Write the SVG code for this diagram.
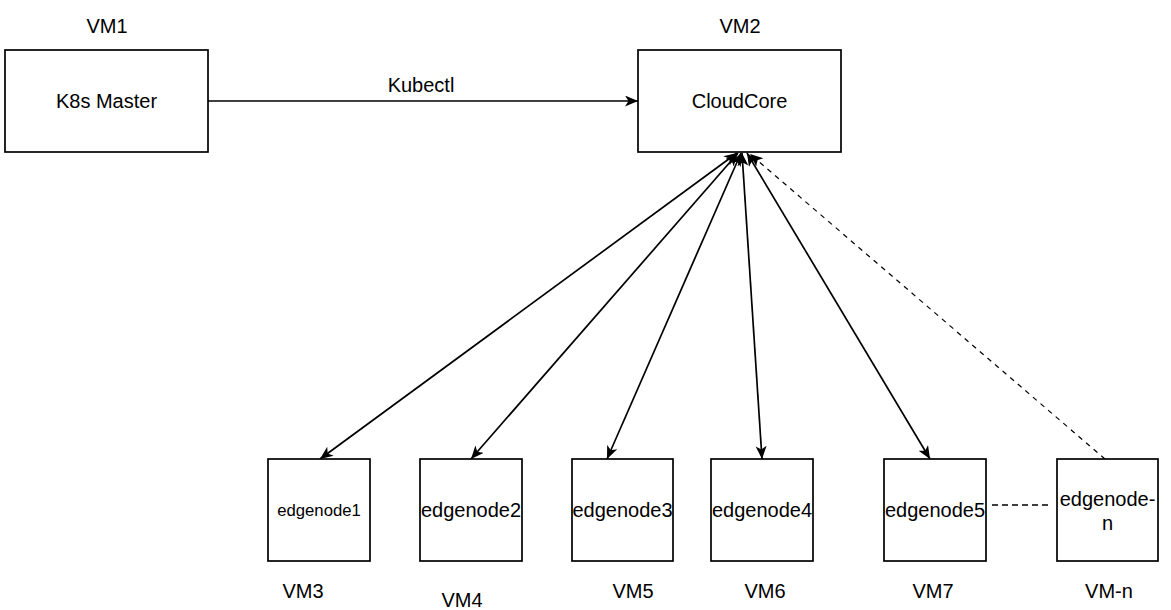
<svg xmlns="http://www.w3.org/2000/svg" width="1171" height="610" viewBox="0 0 1171 610">
<style>
  .box { fill: #ffffff; stroke: #000000; stroke-width: 1.7; }
  .t { font-family: "Liberation Sans", Arial, sans-serif; font-size: 20px; fill: #000000; text-anchor: middle; }
  .small { font-size: 16.7px; }
  .edge { fill: none; stroke: #000000; stroke-width: 1.7; }
  .dash { fill: none; stroke: #000000; stroke-width: 1.2; stroke-dasharray: 5 5; }
  .dash2 { fill: none; stroke: #000000; stroke-width: 1.6; stroke-dasharray: 6 4; }
</style>
<defs>
  <marker id="arrow" markerUnits="userSpaceOnUse" markerWidth="14" markerHeight="12" refX="13" refY="5.5" orient="auto-start-reverse" viewBox="0 0 14 12">
    <path d="M0,0 L13,5.5 L0,11 L3.5,5.5 Z" fill="#000000"/>
  </marker>
</defs>
<rect width="1171" height="610" fill="#ffffff"/>

<g id="connectors">
  <line class="edge" x1="208" y1="101" x2="638" y2="101" marker-end="url(#arrow)"/>
  <line class="edge" x1="737" y1="153" x2="320" y2="459" marker-start="url(#arrow)" marker-end="url(#arrow)"/>
  <line class="edge" x1="738" y1="153" x2="471" y2="459" marker-start="url(#arrow)" marker-end="url(#arrow)"/>
  <line class="edge" x1="741" y1="153" x2="607" y2="459" marker-start="url(#arrow)" marker-end="url(#arrow)"/>
  <line class="edge" x1="742" y1="153" x2="762" y2="459" marker-start="url(#arrow)" marker-end="url(#arrow)"/>
  <line class="edge" x1="747" y1="153" x2="930" y2="459" marker-start="url(#arrow)" marker-end="url(#arrow)"/>
  <line class="dash" x1="1105" y1="459" x2="750" y2="154" marker-end="url(#arrow)"/>
  <line class="dash2" x1="992" y1="505" x2="1052" y2="505"/>
  <text class="t" x="421" y="92">Kubectl</text>
</g>

<g id="k8s-master">
  <rect class="box" x="5" y="50" width="203" height="102"/>
  <text class="t" x="106.5" y="108">K8s Master</text>
  <text class="t" x="107" y="33">VM1</text>
</g>

<g id="cloudcore">
  <rect class="box" x="638" y="50" width="203" height="102"/>
  <text class="t" x="739.5" y="108">CloudCore</text>
  <text class="t" x="740" y="33">VM2</text>
</g>

<g id="edgenode1">
  <rect class="box" x="268" y="459" width="102" height="102"/>
  <text class="t small" x="319" y="516">edgenode1</text>
  <text class="t" x="303" y="598">VM3</text>
</g>

<g id="edgenode2">
  <rect class="box" x="420" y="459" width="102" height="102"/>
  <text class="t" x="471" y="517">edgenode2</text>
  <text class="t" x="462" y="607">VM4</text>
</g>

<g id="edgenode3">
  <rect class="box" x="572" y="459" width="101" height="102"/>
  <text class="t" x="622.5" y="517">edgenode3</text>
  <text class="t" x="633" y="598">VM5</text>
</g>

<g id="edgenode4">
  <rect class="box" x="711" y="459" width="102" height="102"/>
  <text class="t" x="762" y="517">edgenode4</text>
  <text class="t" x="765" y="598">VM6</text>
</g>

<g id="edgenode5">
  <rect class="box" x="884" y="459" width="102" height="102"/>
  <text class="t" x="935" y="517">edgenode5</text>
  <text class="t" x="933" y="598">VM7</text>
</g>

<g id="edgenode-n">
  <rect class="box" x="1057" y="459" width="101" height="102"/>
  <text class="t" x="1107.5" y="506">edgenode-</text>
  <text class="t" x="1107.5" y="530">n</text>
  <text class="t" x="1109" y="598">VM-n</text>
</g>
</svg>
